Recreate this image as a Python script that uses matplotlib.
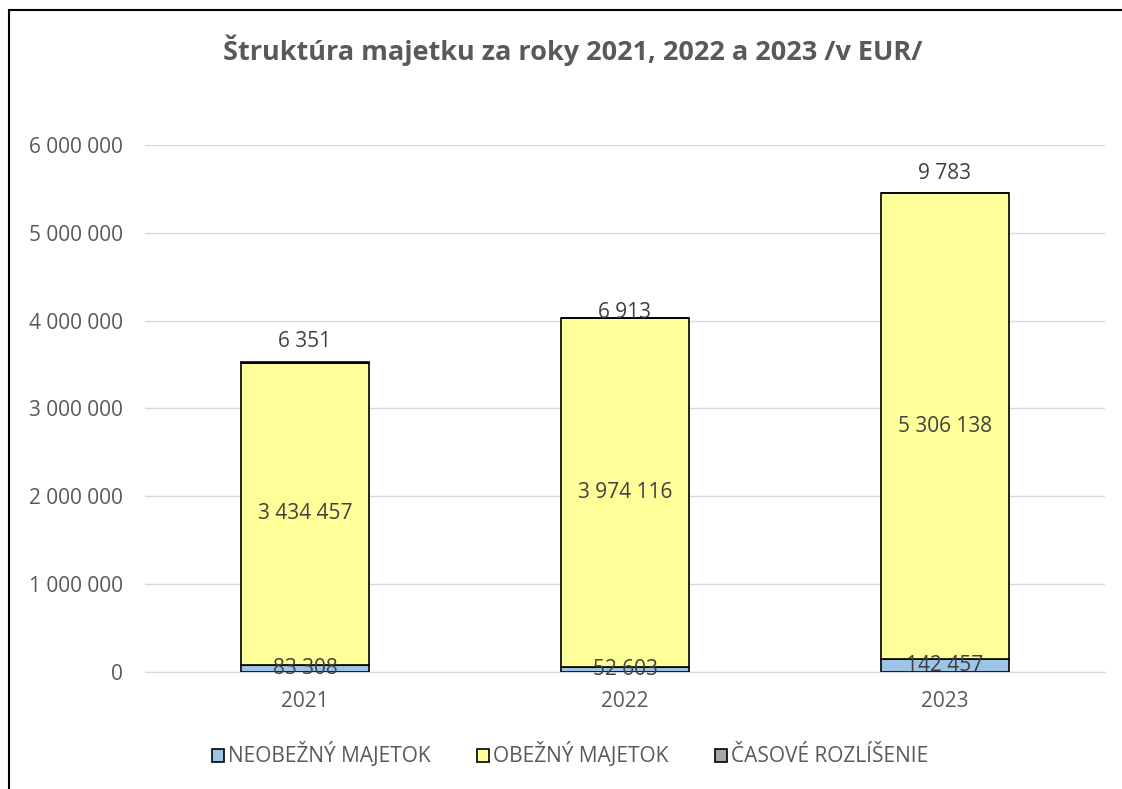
import matplotlib.pyplot as plt
import numpy as np
from matplotlib.lines import Line2D
from matplotlib.patches import Patch

plt.rcParams['font.family'] = ['Open Sans', 'DejaVu Sans']

years = ["2021", "2022", "2023"]
neobezny = [83308, 52603, 142457]
obezny = [3434457, 3974116, 5306138]
casove = [6351, 6913, 9783]
series_names = ["NEOBEŽNÝ MAJETOK", "OBEŽNÝ MAJETOK", "ČASOVÉ ROZLÍŠENIE"]
yticks = [0, 1000000, 2000000, 3000000, 4000000, 5000000, 6000000]


def fmt(v):
    return f"{v:,}".replace(",", " ")


fig = plt.figure(figsize=(11.22, 7.89), dpi=100)
ax = fig.add_axes([145 / 1122, 1 - 672 / 789, 960 / 1122, 527 / 789])

x = np.arange(len(years))
w = 0.40
c1, c2, c3 = "#9dc3e6", "#ffff99", "#a6a6a6"
ax.bar(x, neobezny, w, color=c1, edgecolor="black", linewidth=1.2, zorder=3)
ax.bar(x, obezny, w, bottom=neobezny, color=c2, edgecolor="black", linewidth=1.2, zorder=3)
bottom3 = np.array(neobezny) + np.array(obezny)
ax.bar(x, casove, w, bottom=bottom3, color=c3, edgecolor="black", linewidth=1.2, zorder=3)

lab_col = "#404040"
for i in range(len(years)):
    ax.text(x[i], neobezny[i] / 2, fmt(neobezny[i]), ha="center", va="center",
            fontsize=15, color=lab_col, zorder=4)
    ax.text(x[i], neobezny[i] + obezny[i] / 2, fmt(obezny[i]), ha="center", va="center",
            fontsize=15, color=lab_col, zorder=4)

# top labels (small segment) placed above the bars, as in the original
top_offsets = [15, 4, 14]
for i in range(len(years)):
    ax.annotate(fmt(casove[i]), (x[i], bottom3[i] + casove[i]), xytext=(0, top_offsets[i]),
                textcoords="offset points", ha="center", va="center",
                fontsize=15, color=lab_col, zorder=4)

ax.set_xlim(-0.5, 2.5)
ax.set_ylim(0, 6000000)
ax.set_yticks(yticks)
ax.set_yticklabels([fmt(v) for v in yticks])
ax.set_xticks(x)
ax.set_xticklabels(years)
ax.tick_params(axis="both", length=0, labelsize=15, colors="#595959")
ax.tick_params(axis="y", pad=16)
ax.tick_params(axis="x", pad=14)
ax.grid(axis="y", color="#d9d9d9", linewidth=1, zorder=0)
for s in ["top", "right", "left"]:
    ax.spines[s].set_visible(False)
ax.spines["bottom"].set_color("#d9d9d9")

fig.text(573 / 1122, 1 - 50 / 789, "Štruktúra majetku za roky 2021, 2022 a 2023 /v EUR/",
         ha="center", va="center", fontsize=19.5, fontweight="bold", color="#595959")

handles = [Patch(facecolor=c, edgecolor="black", linewidth=1.2) for c in (c1, c2, c3)]
fig.legend(handles, series_names, loc="center", bbox_to_anchor=(570 / 1122, 1 - 755 / 789),
           ncol=3, frameon=False, fontsize=15, labelcolor="#595959",
           handlelength=0.6, handleheight=0.6, handletextpad=0.2, columnspacing=2.2)

# outer chart border
fig.add_artist(Line2D([8.5 / 1122, 8.5 / 1122], [0, 1 - 9.5 / 789], color="black", linewidth=1.5,
                      transform=fig.transFigure))
fig.add_artist(Line2D([8.5 / 1122, 1], [1 - 9.5 / 789, 1 - 9.5 / 789], color="black", linewidth=1.5,
                      transform=fig.transFigure))

fig.savefig("out.png", dpi=100)
